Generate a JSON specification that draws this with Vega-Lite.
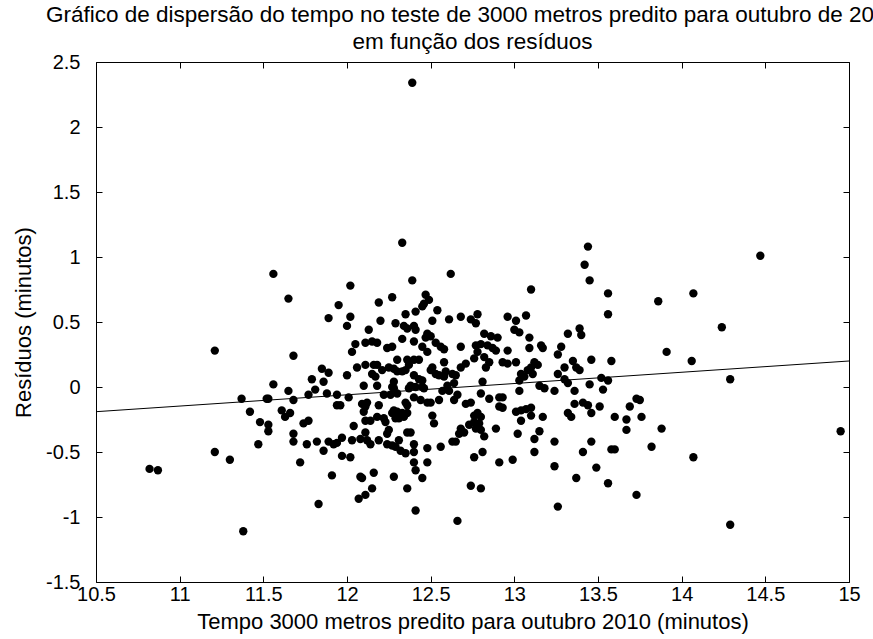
{
  "$schema": "https://vega.github.io/schema/vega-lite/v6.json",
  "width": 753,
  "height": 520,
  "autosize": {"type": "none"},
  "padding": {"left": 96, "top": 62, "right": 24, "bottom": 57},
  "background": "white",
  "config": {
    "view": {"stroke": "black", "strokeWidth": 1},
    "font": "Liberation Sans",
    "axis": {
      "domain": false,
      "grid": false,
      "tickColor": "black",
      "tickSize": -6,
      "tickWidth": 1,
      "labelColor": "black",
      "labelFont": "Liberation Sans",
      "labelFontSize": 20,
      "labelOverlap": false,
      "labelBound": false,
      "labelFlush": false,
      "titleColor": "black",
      "titleFont": "Liberation Sans",
      "titleFontSize": 22,
      "titleFontWeight": "normal"
    }
  },
  "title": {
    "text": ["Gráfico de dispersão do tempo no teste de 3000 metros predito para outubro de 2010", "em função dos resíduos"],
    "font": "Liberation Sans",
    "fontSize": 22.5,
    "fontWeight": "normal",
    "color": "black",
    "anchor": "middle",
    "lineHeight": 27,
    "offset": -1
  },
  "layer": [
    {
      "data": {"values": [
        {"x": 10.82, "y": -0.63}, {"x": 10.87, "y": -0.64}, {"x": 11.21, "y": 0.28}, {"x": 11.21, "y": -0.50},
        {"x": 11.30, "y": -0.56}, {"x": 11.37, "y": -0.09}, {"x": 11.38, "y": -1.11}, {"x": 11.42, "y": -0.19},
        {"x": 11.48, "y": -0.27}, {"x": 11.47, "y": -0.44}, {"x": 11.52, "y": -0.09},
        {"x": 11.56, "y": 0.87}, {"x": 12.02, "y": 0.78}, {"x": 11.65, "y": 0.68}, {"x": 11.95, "y": 0.63},
        {"x": 12.19, "y": 0.65}, {"x": 11.89, "y": 0.53}, {"x": 12.02, "y": 0.54}, {"x": 12.00, "y": 0.47},
        {"x": 12.20, "y": 0.51}, {"x": 12.13, "y": 0.44}, {"x": 12.05, "y": 0.33}, {"x": 12.11, "y": 0.34},
        {"x": 12.15, "y": 0.35}, {"x": 12.18, "y": 0.34}, {"x": 12.03, "y": 0.27}, {"x": 11.68, "y": 0.24},
        {"x": 11.85, "y": 0.14}, {"x": 11.89, "y": 0.11}, {"x": 11.79, "y": 0.06}, {"x": 11.86, "y": 0.04},
        {"x": 12.00, "y": 0.09}, {"x": 12.06, "y": 0.15}, {"x": 12.11, "y": 0.17}, {"x": 12.16, "y": 0.17},
        {"x": 12.18, "y": 0.17}, {"x": 12.15, "y": 0.10}, {"x": 12.17, "y": 0.08}, {"x": 12.10, "y": 0.01},
        {"x": 12.18, "y": 0.01}, {"x": 11.56, "y": 0.02}, {"x": 11.65, "y": -0.03}, {"x": 11.81, "y": -0.02},
        {"x": 12.33, "y": 1.11}, {"x": 12.62, "y": 0.87}, {"x": 12.39, "y": 0.82}, {"x": 12.47, "y": 0.71},
        {"x": 12.49, "y": 0.67}, {"x": 12.46, "y": 0.64}, {"x": 12.45, "y": 0.62}, {"x": 12.27, "y": 0.69},
        {"x": 12.35, "y": 0.56}, {"x": 12.41, "y": 0.58}, {"x": 12.54, "y": 0.59}, {"x": 12.51, "y": 0.51},
        {"x": 12.61, "y": 0.52}, {"x": 12.68, "y": 0.54}, {"x": 12.78, "y": 0.56}, {"x": 12.74, "y": 0.52},
        {"x": 12.77, "y": 0.49}, {"x": 12.29, "y": 0.49}, {"x": 12.34, "y": 0.47}, {"x": 12.36, "y": 0.45},
        {"x": 12.40, "y": 0.47}, {"x": 12.41, "y": 0.44}, {"x": 12.33, "y": 0.37}, {"x": 12.40, "y": 0.35},
        {"x": 12.48, "y": 0.41}, {"x": 12.50, "y": 0.39}, {"x": 12.47, "y": 0.38}, {"x": 12.53, "y": 0.34},
        {"x": 12.56, "y": 0.31}, {"x": 12.58, "y": 0.29}, {"x": 12.45, "y": 0.31}, {"x": 12.24, "y": 0.30},
        {"x": 12.27, "y": 0.31}, {"x": 12.48, "y": 0.27}, {"x": 12.68, "y": 0.31}, {"x": 12.82, "y": 0.41},
        {"x": 12.86, "y": 0.39}, {"x": 12.90, "y": 0.38}, {"x": 12.80, "y": 0.33}, {"x": 12.84, "y": 0.32},
        {"x": 12.87, "y": 0.30}, {"x": 12.89, "y": 0.28}, {"x": 12.77, "y": 0.32}, {"x": 12.78, "y": 0.27},
        {"x": 12.76, "y": 0.22}, {"x": 12.82, "y": 0.23}, {"x": 12.85, "y": 0.19}, {"x": 12.83, "y": 0.15},
        {"x": 12.30, "y": 0.21}, {"x": 12.36, "y": 0.21}, {"x": 12.40, "y": 0.21}, {"x": 12.43, "y": 0.21},
        {"x": 12.37, "y": 0.17}, {"x": 12.35, "y": 0.13}, {"x": 12.33, "y": 0.12}, {"x": 12.25, "y": 0.15},
        {"x": 12.28, "y": 0.14}, {"x": 12.30, "y": 0.12}, {"x": 12.21, "y": 0.13}, {"x": 12.51, "y": 0.15},
        {"x": 12.50, "y": 0.13}, {"x": 12.53, "y": 0.10}, {"x": 12.55, "y": 0.09}, {"x": 12.58, "y": 0.19},
        {"x": 12.59, "y": 0.12}, {"x": 12.58, "y": 0.08}, {"x": 12.63, "y": 0.10}, {"x": 12.65, "y": 0.09},
        {"x": 12.68, "y": 0.15}, {"x": 12.71, "y": 0.18}, {"x": 12.40, "y": 0.09}, {"x": 12.43, "y": 0.06},
        {"x": 12.45, "y": 0.05}, {"x": 12.28, "y": 0.04}, {"x": 12.27, "y": 0.00}, {"x": 12.38, "y": 0.01},
        {"x": 12.41, "y": 0.00}, {"x": 12.45, "y": 0.00}, {"x": 12.60, "y": 0.01}, {"x": 12.64, "y": 0.03},
        {"x": 12.81, "y": 0.04},
        {"x": 13.44, "y": 1.08}, {"x": 13.42, "y": 0.94}, {"x": 13.45, "y": 0.82}, {"x": 13.10, "y": 0.75},
        {"x": 13.56, "y": 0.72}, {"x": 13.56, "y": 0.56}, {"x": 12.96, "y": 0.54}, {"x": 13.01, "y": 0.51},
        {"x": 13.07, "y": 0.55}, {"x": 13.00, "y": 0.44}, {"x": 13.03, "y": 0.42}, {"x": 13.09, "y": 0.38},
        {"x": 13.32, "y": 0.41}, {"x": 13.39, "y": 0.45}, {"x": 13.40, "y": 0.40}, {"x": 12.96, "y": 0.28},
        {"x": 13.09, "y": 0.30}, {"x": 13.16, "y": 0.32}, {"x": 13.17, "y": 0.30}, {"x": 13.28, "y": 0.31},
        {"x": 13.26, "y": 0.25}, {"x": 12.93, "y": 0.19}, {"x": 12.96, "y": 0.18}, {"x": 13.01, "y": 0.19},
        {"x": 13.12, "y": 0.19}, {"x": 13.14, "y": 0.17}, {"x": 13.10, "y": 0.15}, {"x": 13.08, "y": 0.13},
        {"x": 13.04, "y": 0.10}, {"x": 13.06, "y": 0.08}, {"x": 13.11, "y": 0.10}, {"x": 13.03, "y": 0.05},
        {"x": 13.30, "y": 0.15}, {"x": 13.35, "y": 0.20}, {"x": 13.37, "y": 0.15}, {"x": 13.39, "y": 0.13},
        {"x": 13.46, "y": 0.21}, {"x": 13.58, "y": 0.20}, {"x": 13.26, "y": 0.10}, {"x": 13.30, "y": 0.06},
        {"x": 13.32, "y": 0.03}, {"x": 13.52, "y": 0.07}, {"x": 13.56, "y": 0.05}, {"x": 13.15, "y": 0.01},
        {"x": 13.18, "y": -0.01}, {"x": 13.45, "y": 0.02}, {"x": 13.24, "y": -0.03}, {"x": 13.36, "y": -0.03},
        {"x": 13.03, "y": -0.03},
        {"x": 11.53, "y": -0.09}, {"x": 11.68, "y": -0.10}, {"x": 11.77, "y": -0.06}, {"x": 11.88, "y": -0.05},
        {"x": 11.94, "y": -0.06}, {"x": 12.01, "y": -0.08}, {"x": 11.94, "y": -0.14}, {"x": 11.96, "y": -0.14},
        {"x": 11.61, "y": -0.18}, {"x": 11.63, "y": -0.23}, {"x": 11.66, "y": -0.20}, {"x": 11.53, "y": -0.29},
        {"x": 11.53, "y": -0.34}, {"x": 11.74, "y": -0.28}, {"x": 11.77, "y": -0.26}, {"x": 11.68, "y": -0.36},
        {"x": 11.68, "y": -0.42}, {"x": 11.76, "y": -0.44}, {"x": 11.82, "y": -0.42}, {"x": 11.86, "y": -0.49},
        {"x": 11.89, "y": -0.42}, {"x": 11.92, "y": -0.44}, {"x": 11.94, "y": -0.43}, {"x": 11.97, "y": -0.39},
        {"x": 12.03, "y": -0.41}, {"x": 12.04, "y": -0.30}, {"x": 12.09, "y": -0.13}, {"x": 12.11, "y": -0.15},
        {"x": 12.10, "y": -0.19}, {"x": 12.12, "y": -0.12}, {"x": 12.19, "y": -0.14}, {"x": 12.11, "y": -0.26},
        {"x": 12.14, "y": -0.26}, {"x": 12.18, "y": -0.23}, {"x": 12.11, "y": -0.35}, {"x": 12.08, "y": -0.40},
        {"x": 12.12, "y": -0.41}, {"x": 12.14, "y": -0.44}, {"x": 12.19, "y": -0.41}, {"x": 11.97, "y": -0.53},
        {"x": 12.02, "y": -0.54}, {"x": 11.72, "y": -0.58}, {"x": 11.91, "y": -0.68}, {"x": 12.08, "y": -0.69},
        {"x": 12.09, "y": -0.70}, {"x": 12.16, "y": -0.66}, {"x": 12.15, "y": -0.78}, {"x": 12.11, "y": -0.83},
        {"x": 12.07, "y": -0.86}, {"x": 11.83, "y": -0.90},
        {"x": 12.28, "y": -0.01}, {"x": 12.37, "y": -0.01}, {"x": 12.46, "y": -0.01}, {"x": 12.57, "y": -0.03},
        {"x": 12.61, "y": -0.03}, {"x": 12.80, "y": -0.05}, {"x": 12.22, "y": -0.06}, {"x": 12.26, "y": -0.06},
        {"x": 12.30, "y": -0.05}, {"x": 12.40, "y": -0.08}, {"x": 12.44, "y": -0.10}, {"x": 12.48, "y": -0.12},
        {"x": 12.50, "y": -0.12}, {"x": 12.55, "y": -0.10}, {"x": 12.64, "y": -0.10}, {"x": 12.66, "y": -0.06},
        {"x": 12.85, "y": -0.09}, {"x": 12.91, "y": -0.08}, {"x": 12.35, "y": -0.12}, {"x": 12.36, "y": -0.14},
        {"x": 12.71, "y": -0.13}, {"x": 12.74, "y": -0.12}, {"x": 12.28, "y": -0.18}, {"x": 12.27, "y": -0.20},
        {"x": 12.30, "y": -0.19}, {"x": 12.33, "y": -0.20}, {"x": 12.36, "y": -0.20}, {"x": 12.34, "y": -0.23},
        {"x": 12.29, "y": -0.24}, {"x": 12.31, "y": -0.24}, {"x": 12.51, "y": -0.22}, {"x": 12.52, "y": -0.28},
        {"x": 12.22, "y": -0.24}, {"x": 12.23, "y": -0.27}, {"x": 12.76, "y": -0.22}, {"x": 12.78, "y": -0.20},
        {"x": 12.80, "y": -0.23}, {"x": 12.76, "y": -0.27}, {"x": 12.79, "y": -0.28}, {"x": 12.77, "y": -0.32},
        {"x": 12.80, "y": -0.33}, {"x": 12.82, "y": -0.38}, {"x": 12.68, "y": -0.32}, {"x": 12.70, "y": -0.35},
        {"x": 12.73, "y": -0.29}, {"x": 12.67, "y": -0.36}, {"x": 12.89, "y": -0.32}, {"x": 12.91, "y": -0.15},
        {"x": 12.36, "y": -0.35}, {"x": 12.38, "y": -0.35}, {"x": 12.25, "y": -0.33}, {"x": 12.24, "y": -0.36},
        {"x": 12.24, "y": -0.44}, {"x": 12.27, "y": -0.45}, {"x": 12.29, "y": -0.46}, {"x": 12.31, "y": -0.41},
        {"x": 12.32, "y": -0.49}, {"x": 12.35, "y": -0.51}, {"x": 12.40, "y": -0.44}, {"x": 12.40, "y": -0.50},
        {"x": 12.48, "y": -0.47}, {"x": 12.56, "y": -0.46}, {"x": 12.63, "y": -0.42}, {"x": 12.65, "y": -0.42},
        {"x": 12.76, "y": -0.54}, {"x": 12.81, "y": -0.50}, {"x": 12.91, "y": -0.58}, {"x": 12.40, "y": -0.58},
        {"x": 12.41, "y": -0.64}, {"x": 12.48, "y": -0.58}, {"x": 12.28, "y": -0.69}, {"x": 12.45, "y": -0.70},
        {"x": 12.36, "y": -0.78}, {"x": 12.74, "y": -0.76}, {"x": 12.80, "y": -0.78}, {"x": 12.41, "y": -0.95},
        {"x": 12.66, "y": -1.03},
        {"x": 13.53, "y": -0.02}, {"x": 12.93, "y": -0.08}, {"x": 12.93, "y": -0.16}, {"x": 13.01, "y": -0.19},
        {"x": 13.04, "y": -0.18}, {"x": 13.07, "y": -0.17}, {"x": 13.10, "y": -0.16}, {"x": 13.04, "y": -0.26},
        {"x": 13.10, "y": -0.22}, {"x": 13.17, "y": -0.23}, {"x": 13.36, "y": -0.13}, {"x": 13.41, "y": -0.12},
        {"x": 13.44, "y": -0.14}, {"x": 13.51, "y": -0.15}, {"x": 13.46, "y": -0.20}, {"x": 13.32, "y": -0.20},
        {"x": 13.34, "y": -0.23}, {"x": 13.60, "y": -0.23}, {"x": 13.02, "y": -0.36}, {"x": 13.15, "y": -0.34},
        {"x": 13.12, "y": -0.40}, {"x": 13.24, "y": -0.42}, {"x": 13.46, "y": -0.42}, {"x": 12.99, "y": -0.56},
        {"x": 13.12, "y": -0.50}, {"x": 13.41, "y": -0.50}, {"x": 13.58, "y": -0.48}, {"x": 13.60, "y": -0.48},
        {"x": 13.24, "y": -0.61}, {"x": 13.49, "y": -0.62}, {"x": 13.37, "y": -0.70}, {"x": 13.56, "y": -0.74},
        {"x": 13.26, "y": -0.92},
        {"x": 14.47, "y": 1.01}, {"x": 14.07, "y": 0.72}, {"x": 13.86, "y": 0.66}, {"x": 14.24, "y": 0.46},
        {"x": 13.91, "y": 0.27}, {"x": 14.06, "y": 0.20}, {"x": 14.29, "y": 0.06}, {"x": 13.73, "y": -0.09},
        {"x": 13.75, "y": -0.10}, {"x": 13.69, "y": -0.15}, {"x": 13.67, "y": -0.25}, {"x": 13.76, "y": -0.23},
        {"x": 13.67, "y": -0.33}, {"x": 13.88, "y": -0.32}, {"x": 13.82, "y": -0.46}, {"x": 14.07, "y": -0.54},
        {"x": 13.73, "y": -0.83}, {"x": 14.29, "y": -1.06}, {"x": 14.95, "y": -0.34},
        {"x": 12.39, "y": 2.34}
      ]},
      "mark": {"type": "point", "shape": "circle", "filled": true, "color": "black", "opacity": 1, "size": 70},
      "encoding": {
        "x": {
          "field": "x", "type": "quantitative",
          "scale": {"domain": [10.5, 15], "nice": false, "zero": false},
          "axis": {
            "orient": "bottom",
            "values": [10.5, 11, 11.5, 12, 12.5, 13, 13.5, 14, 14.5, 15],
            "labelExpr": "datum.value + ''",
            "labelPadding": 8,
            "title": "Tempo 3000 metros predito para outubro 2010 (minutos)",
            "titlePadding": 7
          }
        },
        "y": {
          "field": "y", "type": "quantitative",
          "scale": {"domain": [-1.5, 2.5], "nice": false, "zero": false},
          "axis": {
            "orient": "left",
            "values": [-1.5, -1, -0.5, 0, 0.5, 1, 1.5, 2, 2.5],
            "labelExpr": "datum.value + ''",
            "labelPadding": 22,
            "title": "Resíduos (minutos)",
            "titlePadding": 10
          }
        }
      }
    },
    {
      "data": {"values": [
        {"x": 10.5, "y": -0.19},
        {"x": 15, "y": 0.2}
      ]},
      "mark": {"type": "line", "color": "black", "strokeWidth": 1},
      "encoding": {
        "x": {
          "field": "x", "type": "quantitative",
          "scale": {"domain": [10.5, 15], "nice": false, "zero": false},
          "axis": {"orient": "top", "values": [10.5, 11, 11.5, 12, 12.5, 13, 13.5, 14, 14.5, 15], "labels": false, "title": null}
        },
        "y": {
          "field": "y", "type": "quantitative",
          "scale": {"domain": [-1.5, 2.5], "nice": false, "zero": false},
          "axis": {"orient": "right", "values": [-1.5, -1, -0.5, 0, 0.5, 1, 1.5, 2, 2.5], "labels": false, "title": null}
        }
      }
    }
  ],
  "resolve": {"scale": {"x": "independent", "y": "independent"}}
}
